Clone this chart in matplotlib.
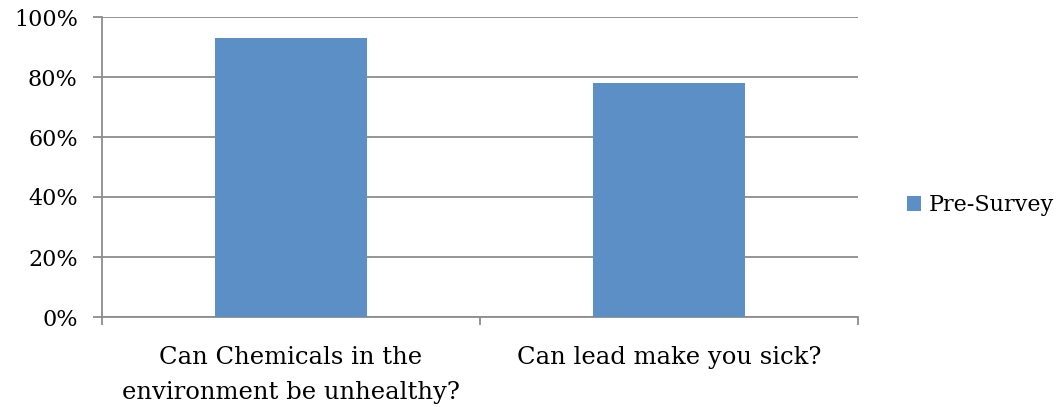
import numpy as np
import matplotlib.pyplot as plt
from matplotlib.ticker import PercentFormatter
from matplotlib.patches import Patch

# Survey answers (share answering "yes")
questions = ['Can Chemicals in the\nenvironment be unhealthy?', 'Can lead make you sick?']
pre_survey = [93, 78]
series_name = 'Pre-Survey'

bar_color = '#5B8FC6'
grid_color = '#8C8C8C'

plt.rcParams['font.family'] = ['DejaVu Serif']

fig = plt.figure(figsize=(10.58, 4.07), dpi=100)
ax = fig.add_axes([102 / 1058, 1 - 317 / 407, (858 - 102) / 1058, 300 / 407])

x = np.arange(len(questions))
ax.bar(x, pre_survey, width=0.4, color=bar_color, zorder=3)

ax.set_xlim(-0.5, len(questions) - 0.5)
ax.set_ylim(0, 100)
ax.set_yticks(np.arange(0, 101, 20))
ax.yaxis.set_major_formatter(PercentFormatter(decimals=0))
ax.grid(axis='y', color=grid_color, linewidth=1.3, zorder=0)

# category labels sit between the boundary ticks
ax.set_xticks(np.arange(-0.5, len(questions)))
ax.set_xticklabels([])
ax.set_xticks(x, minor=True)
ax.set_xticklabels(questions, minor=True, fontsize=17.5, linespacing=1.65)
ax.tick_params(axis='x', which='minor', length=0, pad=21)
ax.tick_params(axis='x', which='major', length=6, width=1.3, color=grid_color)
ax.tick_params(axis='y', length=6.5, width=1.3, color=grid_color, labelsize=16, pad=11)

for side in ['top', 'right']:
    ax.spines[side].set_visible(False)
for side in ['left', 'bottom']:
    ax.spines[side].set_color(grid_color)
    ax.spines[side].set_linewidth(1.3)

handles = [Patch(facecolor=bar_color, label=series_name)]
fig.legend(handles=handles, loc='center left', bbox_to_anchor=(907 / 1058, 1 - 205 / 407),
           frameon=False, fontsize=16, handlelength=0.65, handleheight=0.65, handletextpad=0.35,
           borderpad=0, borderaxespad=0)

fig.savefig('out.png', dpi=100)
